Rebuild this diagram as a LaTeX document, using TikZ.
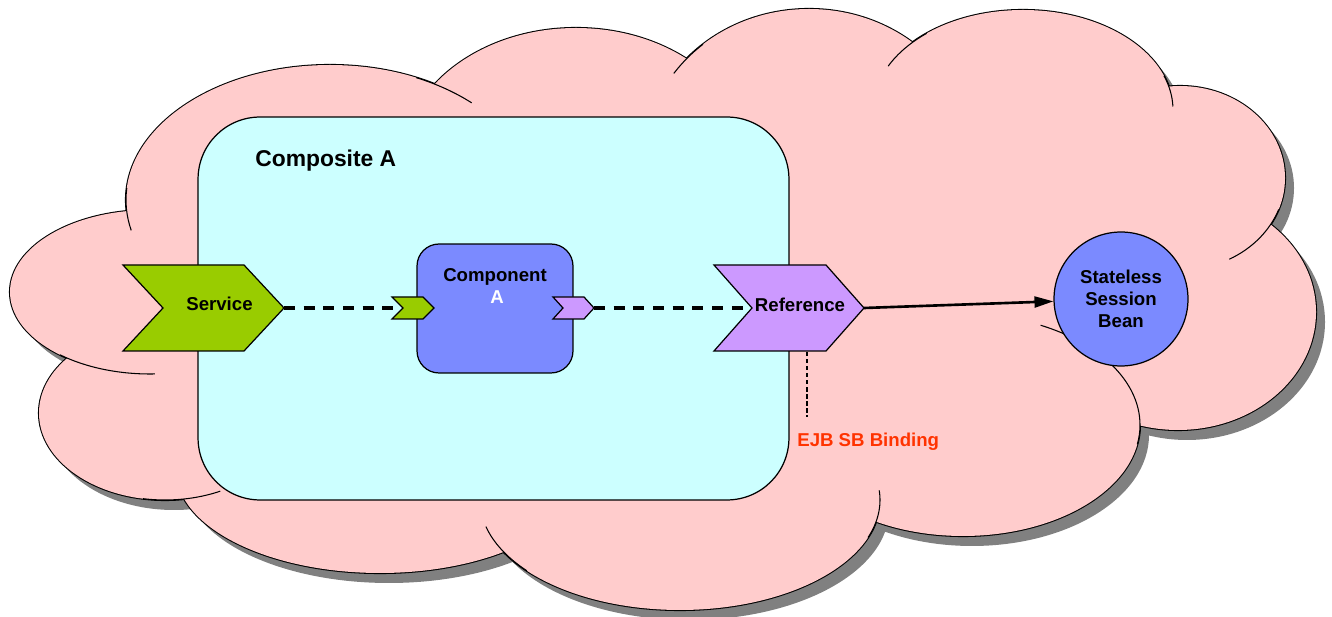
\documentclass[tikz,border=0pt]{standalone}
\usepackage{fontspec}
\setmainfont{Liberation Sans}
\usepackage{tikz}
\usetikzlibrary{arrows.meta, positioning}
\definecolor{cloudpink}{HTML}{FFCCCC}
\definecolor{cloudshade}{HTML}{808080}
\definecolor{compcyan}{HTML}{CCFFFF}
\definecolor{compblue}{HTML}{7B8AFF}
\definecolor{svcgreen}{HTML}{99CC00}
\definecolor{refpurple}{HTML}{CC99FF}
\definecolor{bindred}{HTML}{FF3300}
% lobes of the cloud: centre x / centre y / x radius / y radius
\newcommand{\lobes}{150/292/140/82, 330/200/204/135, 576/165/175/137, 809/160/165/151, 1023/110/150/100, 1180/178/105/92, 1178/312/138/118, 963/425/177/111, 680/500/200/110, 380/470/204/103, 165/413/126/87}
\newcommand{\cloudcore}{(140,225) -- (433,95) -- (688,72) -- (912,58) -- (1160,100) -- (1260,225) -- (1130,420) -- (873,508) -- (508,540) -- (190,488) -- (85,360) -- cycle}
\newcommand{\stub}[6]
{
	\draw[cloudline] (#1,#2) ++(#5:#3 and #4) arc[start angle = #5, end angle = #6, x radius = #3, y radius = #4]
}
\newcommand{\chevron}[7]
{
	\draw[chev, fill = #2] (#3,#4-#7) -- ++(#6,0) -- ++(#5,#7) -- ++(-#5,#7) -- ++(-#6,0) -- ++(#5,-#7) -- cycle;
	\coordinate (#1notch) at ({#3+#5},#4);
	\coordinate (#1tip) at ({#3+#6+#5},#4)
}

\begin{document}
\begin{tikzpicture}[x = 0.02cm, y = -0.02cm,
	chev/.style = {draw = black, line width = 0.7pt},
	cloudline/.style = {draw = black, line width = 0.6pt},
	lbl/.style = {font = {\bfseries\fontsize{10.6}{12.7}\selectfont}, inner sep = 0pt},
	portlink/.style = {line width = 2.1pt, dash pattern = on 6.2pt off 5pt},
	bindlink/.style = {line width = 0.6pt, dash pattern = on 2.5pt off 1.5pt}]

	\useasboundingbox (0,0) rectangle (1332,617);

	\begin{scope}[shift = {(9,10)}]
		\foreach \cx/\cy/\rx/\ry in \lobes {\fill[cloudshade] (\cx,\cy) ellipse [x radius = \rx, y radius = \ry];}
		\fill[cloudshade] \cloudcore;
	\end{scope}
	\foreach \cx/\cy/\rx/\ry in \lobes {\draw[line width = 1.2pt] (\cx,\cy) ellipse [x radius = \rx, y radius = \ry];}
	\foreach \cx/\cy/\rx/\ry in \lobes {\fill[cloudpink] (\cx,\cy) ellipse [x radius = \rx, y radius = \ry];}
	\fill[cloudpink] \cloudcore;

	\stub{330}{200}{204}{135}{185}{167};
	\stub{330}{200}{204}{135}{-65}{-46};
	\stub{809}{160}{165}{151}{-130}{-145};
	\stub{1023}{110}{150}{100}{-130}{-154};
	\stub{1023}{110}{150}{100}{-20}{-2};
	\stub{1180}{178}{105}{92}{20}{62};
	\stub{963}{425}{177}{111}{10}{-64};
	\stub{680}{500}{200}{110}{20}{-5};
	\stub{680}{500}{200}{110}{140}{166};
	\stub{165}{413}{126}{87}{100}{64};
	\stub{150}{292}{140}{82}{130}{88};

	\node[draw = black, fill = compcyan, line width = 0.7pt, rounded corners = 1.24cm, minimum width = 11.82cm, minimum height = 7.66cm, inner sep = 0pt] (compA) at (493.5,308.5) {};
	\node[lbl, font = {\bfseries\fontsize{13}{15}\selectfont}, anchor = base west] (compAname) at (255,167) {Composite A};

	\node[draw = black, fill = compblue, line width = 0.7pt, rounded corners = 0.44cm, minimum width = 3.12cm, minimum height = 2.58cm, inner sep = 0pt] (cmp) at (495,308.5) {};
	\node[lbl, anchor = base] (cmpname) at (495,282) {Component};
	\node[lbl, anchor = base, text = white] (cmpid) at (497,304) {A};

	\node[draw = black, fill = compblue, line width = 0.7pt, circle, minimum size = 2.68cm, inner sep = 0pt, align = center, lbl] (ssb) at (1121,299) {Stateless\\Session\\Bean};

	\coordinate (srvtip) at (284,308);
	\coordinate (cinnotch) at (403,308);
	\coordinate (couttip) at (594,308);
	\coordinate (refnotch) at (752,308);
	\draw[portlink] (srvtip) -- (cinnotch);
	\draw[portlink] (couttip) -- (refnotch);

	\chevron{srv}{svcgreen}{123}{308}{40}{121}{43};
	\chevron{cin}{svcgreen}{392}{308}{11}{31}{11};
	\chevron{cout}{refpurple}{553}{308}{10}{31}{11};
	\chevron{ref}{refpurple}{714}{308}{38}{112}{43};

	\node[lbl, anchor = base] (srvname) at (219.5,311) {Service};
	\node[lbl, anchor = base] (refname) at (800,312) {Reference};

	\draw[-{Triangle[length = 10.8pt, width = 6.2pt]}, line width = 1.5pt] (reftip) -- (ssb);

	\node[lbl, text = bindred, anchor = base west] (ejb) at (797,447) {EJB SB Binding};
	\coordinate (refbot) at (807,352);
	\coordinate (bindend) at (807,417);
	\draw[bindlink] (refbot) -- (bindend);
\end{tikzpicture}
\end{document}
